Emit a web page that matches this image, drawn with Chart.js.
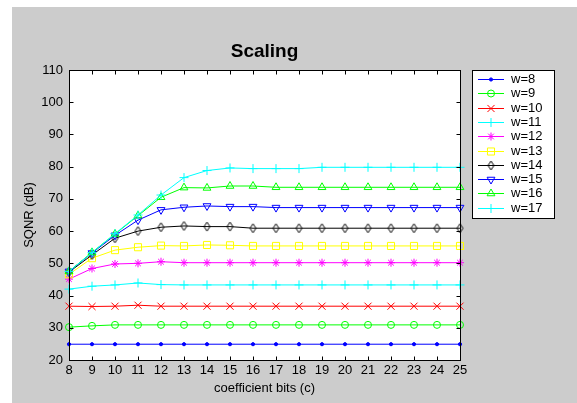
<!DOCTYPE html>
<html>
<head>
<meta charset="utf-8">
<script src="https://cdn.jsdelivr.net/npm/chart.js@4.4.1/dist/chart.umd.min.js"></script>
<style>
  html, body { margin: 0; padding: 0; background: #fff; }
  #wrap { width: 577px; height: 403px; }
</style>
</head>
<body>
<div id="wrap"><canvas id="chart" width="577" height="403"></canvas></div>
<script>
// x axis: coefficient bits
const cBits = [8, 9, 10, 11, 12, 13, 14, 15, 16, 17, 18, 19, 20, 21, 22, 23, 24, 25];
const yTicks = [20, 30, 40, 50, 60, 70, 80, 90, 100, 110];
const wLabels = ['w=8', 'w=9', 'w=10', 'w=11', 'w=12', 'w=13', 'w=14', 'w=15', 'w=16', 'w=17'];
const chartTitle = 'Scaling';

// SQNR (dB) per word length
const w8  = [24.9, 24.9, 24.9, 24.9, 24.9, 24.9, 24.9, 24.9, 24.9, 24.9, 24.9, 24.9, 24.9, 24.9, 24.9, 24.9, 24.9, 24.9];
const w9  = [30.2, 30.6, 30.9, 30.9, 30.9, 30.9, 30.9, 30.9, 30.9, 30.9, 30.9, 30.9, 30.9, 30.9, 30.9, 30.9, 30.9, 30.9];
const w10 = [36.7, 36.6, 36.7, 37.0, 36.7, 36.7, 36.7, 36.7, 36.7, 36.7, 36.7, 36.7, 36.7, 36.7, 36.7, 36.7, 36.7, 36.7];
const w11 = [42.0, 42.9, 43.3, 43.9, 43.4, 43.3, 43.3, 43.3, 43.3, 43.3, 43.3, 43.3, 43.3, 43.3, 43.3, 43.3, 43.3, 43.3];
const w12 = [45.1, 48.4, 49.8, 50.0, 50.5, 50.2, 50.2, 50.2, 50.2, 50.2, 50.2, 50.2, 50.2, 50.2, 50.2, 50.2, 50.2, 50.2];
const w13 = [46.6, 51.6, 54.1, 55.0, 55.5, 55.4, 55.7, 55.6, 55.4, 55.4, 55.4, 55.4, 55.4, 55.4, 55.4, 55.4, 55.4, 55.4];
const w14 = [47.3, 52.6, 57.8, 60.0, 61.2, 61.6, 61.4, 61.4, 60.9, 60.9, 60.9, 60.9, 60.9, 60.9, 60.9, 60.9, 60.9, 60.9];
const w15 = [47.5, 53.2, 58.7, 63.4, 66.6, 67.4, 67.8, 67.6, 67.6, 67.3, 67.3, 67.3, 67.3, 67.3, 67.3, 67.3, 67.3, 67.3];
const w16 = [47.5, 53.4, 59.1, 64.8, 70.5, 73.5, 73.4, 74.0, 74.0, 73.6, 73.6, 73.6, 73.6, 73.6, 73.6, 73.6, 73.6, 73.6];
const w17 = [47.5, 53.3, 59.2, 65.0, 71.2, 76.6, 78.8, 79.6, 79.4, 79.4, 79.4, 79.8, 79.8, 79.8, 79.8, 79.8, 79.8, 79.8];
const series = [w8, w9, w10, w11, w12, w13, w14, w15, w16, w17];

// matlab-ish diamond marker (taller than wide)
function diamond(color) {
  const c = document.createElement('canvas');
  c.width = 9; c.height = 11;
  const g = c.getContext('2d');
  g.strokeStyle = color;
  g.lineWidth = 1;
  g.beginPath();
  g.moveTo(4.5, 1); g.lineTo(7.5, 5.5); g.lineTo(4.5, 10); g.lineTo(1.5, 5.5);
  g.closePath();
  g.stroke();
  return c;
}

const styles = [
  { color: '#0000ff', point: 'circle', r: 1.6, fill: true },
  { color: '#00ff00', point: 'circle', r: 3.5 },
  { color: '#ff0000', point: 'crossRot', r: 5 },
  { color: '#00ffff', point: 'cross', r: 4.5 },
  { color: '#ff00ff', point: 'star', r: 4 },
  { color: '#ffff00', point: 'rect', r: 5 },
  { color: '#000000', point: diamond('#000000'), r: 4.5 },
  { color: '#0000ff', point: 'triangle', r: 4.5, rot: 180 },
  { color: '#00ff00', point: 'triangle', r: 4.5 },
  { color: '#00ffff', point: 'cross', r: 4.5 },
];

const FONT = 'Arial, "Liberation Sans", Helvetica, sans-serif';

const matlabFrame = {
  id: 'matlabFrame',
  beforeDraw(chart) {
    const { ctx, chartArea: a } = chart;
    ctx.save();
    ctx.fillStyle = '#ffffff';
    ctx.fillRect(0, 0, chart.width, chart.height);
    ctx.fillStyle = '#cccccc';
    ctx.fillRect(12, 7, chart.width - 12, chart.height - 7);
    ctx.fillStyle = '#ffffff';
    ctx.fillRect(a.left, a.top, a.right - a.left, a.bottom - a.top);
    ctx.restore();
  },
  afterDatasetsDraw(chart) {
    const { ctx, chartArea: a } = chart;
    const xs = chart.scales.x, ys = chart.scales.y;
    const L = Math.round(a.left) + 0.5, R = Math.round(a.right) + 0.5;
    const T = Math.round(a.top) + 0.5, B = Math.round(a.bottom) + 0.5;
    const tl = 4;
    ctx.save();
    ctx.strokeStyle = '#000';
    ctx.lineWidth = 1;
    ctx.beginPath();
    // inward ticks on all four sides
    xs.ticks.forEach(t => {
      const px = Math.round(xs.getPixelForValue(t.value)) + 0.5;
      ctx.moveTo(px, B); ctx.lineTo(px, B - tl);
      ctx.moveTo(px, T); ctx.lineTo(px, T + tl);
    });
    ys.ticks.forEach(t => {
      const py = Math.round(ys.getPixelForValue(t.value)) + 0.5;
      ctx.moveTo(L, py); ctx.lineTo(L + tl, py);
      ctx.moveTo(R, py); ctx.lineTo(R - tl, py);
    });
    ctx.stroke();
    ctx.strokeRect(L, T, R - L, B - T);
    ctx.restore();
  },
  afterDraw(chart) {
    const ctx = chart.ctx;
    const a = chart.chartArea;
    ctx.save();
    // title, centred over the axes box
    ctx.fillStyle = '#000';
    ctx.font = 'bold 19px ' + FONT;
    ctx.textAlign = 'center';
    ctx.textBaseline = 'middle';
    ctx.fillText(chartTitle, (a.left + a.right) / 2, 52);

    // legend box like matlab: line + marker + label
    const bx = 472, by = 70, bw = 82, bh = 148;
    ctx.fillStyle = '#fff';
    ctx.fillRect(bx, by, bw, bh);
    ctx.strokeStyle = '#000';
    ctx.lineWidth = 1;
    ctx.strokeRect(bx + 0.5, by + 0.5, bw, bh);
    chart.data.datasets.forEach((ds, i) => {
      const y = Math.round(79 + i * 14.3) + 0.5;
      ctx.strokeStyle = ds.borderColor;
      ctx.lineWidth = 1;
      ctx.beginPath();
      ctx.moveTo(478, y); ctx.lineTo(504, y);
      ctx.stroke();
      ctx.fillStyle = ds.pointBackgroundColor;
      Chart.helpers.drawPoint(ctx, {
        pointStyle: ds.pointStyle,
        rotation: ds.pointRotation || 0,
        radius: ds.pointRadius,
        borderWidth: 1
      }, 491, y);
      ctx.fillStyle = '#000';
      ctx.font = '13px ' + FONT;
      ctx.textBaseline = 'middle';
      ctx.textAlign = 'left';
      ctx.fillText(ds.label, 511, y);
    });
    ctx.restore();
  }
};

const datasets = series.map((vals, i) => ({
  label: wLabels[i],
  data: vals,
  borderColor: styles[i].color,
  borderWidth: 1,
  pointStyle: styles[i].point,
  pointRadius: styles[i].r,
  pointHoverRadius: styles[i].r,
  pointRotation: styles[i].rot || 0,
  pointBorderWidth: 1,
  pointBorderColor: styles[i].color,
  pointBackgroundColor: styles[i].fill ? styles[i].color : 'rgba(0,0,0,0)',
  tension: 0,
  clip: false,
  order: series.length - i
}));

new Chart(document.getElementById('chart'), {
  type: 'line',
  data: { labels: cBits, datasets },
  options: {
    responsive: false,
    animation: false,
    devicePixelRatio: 1,
    layout: { padding: { left: 0, right: 117, top: 70, bottom: 0 } },
    plugins: {
      legend: { display: false },
      tooltip: { enabled: false },
      title: { display: false }
    },
    scales: {
      x: {
        type: 'linear',
        min: 8, max: 25,
        grid: { display: false, drawTicks: false },
        border: { display: false },
        ticks: { stepSize: 1, color: '#000', font: { family: FONT, size: 13 }, padding: 3, maxRotation: 0, autoSkip: false },
        title: { display: true, text: 'coefficient bits (c)', color: '#000', font: { family: FONT, size: 13 }, padding: { top: 0, bottom: 7 } },
        afterFit(s) { s.height = 43; }
      },
      y: {
        min: 20, max: 110,
        grid: { display: false, drawTicks: false },
        border: { display: false },
        afterBuildTicks(s) { s.ticks = yTicks.map(v => ({ value: v })); },
        ticks: { color: '#000', font: { family: FONT, size: 13 }, padding: 6 },
        title: { display: true, text: 'SQNR (dB)', color: '#000', font: { family: FONT, size: 13 }, padding: { top: 22, bottom: 0 } },
        afterFit(s) { s.width = 69; }
      }
    }
  },
  plugins: [matlabFrame]
});
</script>
</body>
</html>
